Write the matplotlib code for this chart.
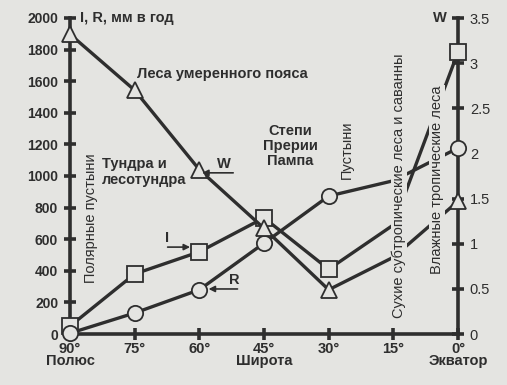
import matplotlib.pyplot as plt

# latitude, degrees
lat = [90, 75, 60, 45, 30, 15, 0]
# I, mm per year (squares); 15 deg has no marker
i_vals = [50, 380, 520, 735, 410, 690, 1785]
# R, mm per year (circles)
r_vals = [5, 133, 280, 575, 873, 970, 1177]
# W, dimensionless (triangles), right axis
w_vals = [3.32, 2.70, 1.82, 1.17, 0.49, 0.85, 1.47]
marked = [0, 1, 2, 3, 4, 6]

x_ticks = [90, 75, 60, 45, 30, 15, 0]
x_labels = ["90°\nПолюс", "75°", "60°", "45°\nШирота", "30°", "15°", "0°\nЭкватор"]
left_ticks = list(range(0, 2001, 200))
right_ticks = [0, 0.5, 1, 1.5, 2, 2.5, 3, 3.5]
right_labels = ["0", "0.5", "1", "1.5", "2", "2.5", "3", "3.5"]

bg = "#e4e4e1"
ink = "#2e2e2e"
plt.rcParams['font.family'] = ['Liberation Sans', 'DejaVu Sans']

fig = plt.figure(figsize=(5.07, 3.85), dpi=100, facecolor=bg)
ax = fig.add_axes([70 / 507, 1 - 334 / 385, 388 / 507, 316 / 385])
ax2 = ax.twinx()
ax2.set_facecolor(bg)
# keep the data lines above every spine
ax.set_zorder(3)
ax.patch.set_visible(False)

line_kw = dict(color=ink, lw=2.4, markersize=11, markerfacecolor=bg,
               markeredgecolor=ink, markeredgewidth=1.3, markevery=marked,
               zorder=3, clip_on=False)
ax.plot(lat, i_vals, marker='s', **line_kw)
ax.plot(lat, r_vals, marker='o', **line_kw)
# W is drawn on the left axes in right-axis units converted by the two limits
w_scale = 2000 / 3.5
ax.plot(lat, [w * w_scale for w in w_vals], marker='^', **line_kw)

ax.set_xlim(90, 0)
ax.set_ylim(0, 2000)
ax2.set_ylim(0, 3.5)
ax.set_xticks(x_ticks)
ax.set_xticklabels(x_labels, fontsize=10.5, fontweight='bold', color=ink, linespacing=0.85)
ax.set_yticks(left_ticks)
ax.set_yticklabels([str(v) for v in left_ticks], fontsize=10, fontweight='bold', color=ink)
ax2.set_yticks(right_ticks)
ax2.set_yticklabels(right_labels, fontsize=10.5, color=ink)

for a in (ax, ax2):
    a.spines['top'].set_visible(False)
    for s in ('left', 'right', 'bottom'):
        a.spines[s].set_linewidth(2.6)
        a.spines[s].set_color(ink)
ax.spines['right'].set_visible(False)
ax2.spines['left'].set_visible(False)
ax2.spines['bottom'].set_visible(False)
ax.tick_params(axis='both', direction='inout', length=9, width=2.6, color=ink, pad=1)
ax.tick_params(axis='y', pad=4)
ax2.tick_params(axis='y', direction='inout', length=9, width=2.6, color=ink, pad=4)

txt = dict(color=ink, fontweight='bold', fontsize=10.5)
fig.text(80 / 507, 1 - 18 / 385, "I, R, мм в год", ha='left', va='center', **txt)
fig.text(440 / 507, 1 - 18 / 385, "W", ha='center', va='center', **txt)
fig.text(222 / 507, 1 - 74 / 385, "Леса умеренного пояса", ha='center', va='center', **txt)
fig.text(102 / 507, 1 - 172 / 385, "Тундра и\nлесотундра", ha='left', va='center',
         linespacing=1.1, **txt)
fig.text(290 / 507, 1 - 146 / 385, "Степи\nПрерии\nПампа", ha='center', va='center',
         linespacing=1.1, **txt)
fig.text(91 / 507, 1 - 218 / 385, "Полярные пустыни", rotation=90, ha='center', va='center',
         color=ink, fontsize=10.5)
fig.text(347 / 507, 1 - 150 / 385, "Пустыни", rotation=90, ha='center', va='center',
         color=ink, fontsize=10.5)
fig.text(399 / 507, 1 - 186 / 385, "Сухие субтропические леса и саванны", rotation=90,
         ha='center', va='center', color=ink, fontsize=10.5, zorder=5,
         bbox=dict(facecolor=bg, edgecolor='none', pad=0.5))
fig.text(437 / 507, 1 - 180 / 385, "Влажные тропические леса", rotation=90,
         ha='center', va='center', color=ink, fontsize=10.5, zorder=5,
         bbox=dict(facecolor=bg, edgecolor='none', pad=0.5))

# pointer labels
arrow = dict(arrowstyle='-|>', color=ink, lw=1.2, mutation_scale=9)
ax.annotate("", xy=(60, 1020), xytext=(51.5, 1020), arrowprops=arrow)
ax.text(54.3, 1030, "W", ha='center', va='bottom', **txt)
ax.annotate("", xy=(61.5, 550), xytext=(68, 550), arrowprops=arrow)
ax.text(67.5, 565, "I", ha='center', va='bottom', **txt)
ax.annotate("", xy=(58.5, 285), xytext=(50.5, 285), arrowprops=arrow)
ax.text(52, 295, "R", ha='center', va='bottom', **txt)

fig.savefig("out.png", dpi=100, facecolor=bg)
